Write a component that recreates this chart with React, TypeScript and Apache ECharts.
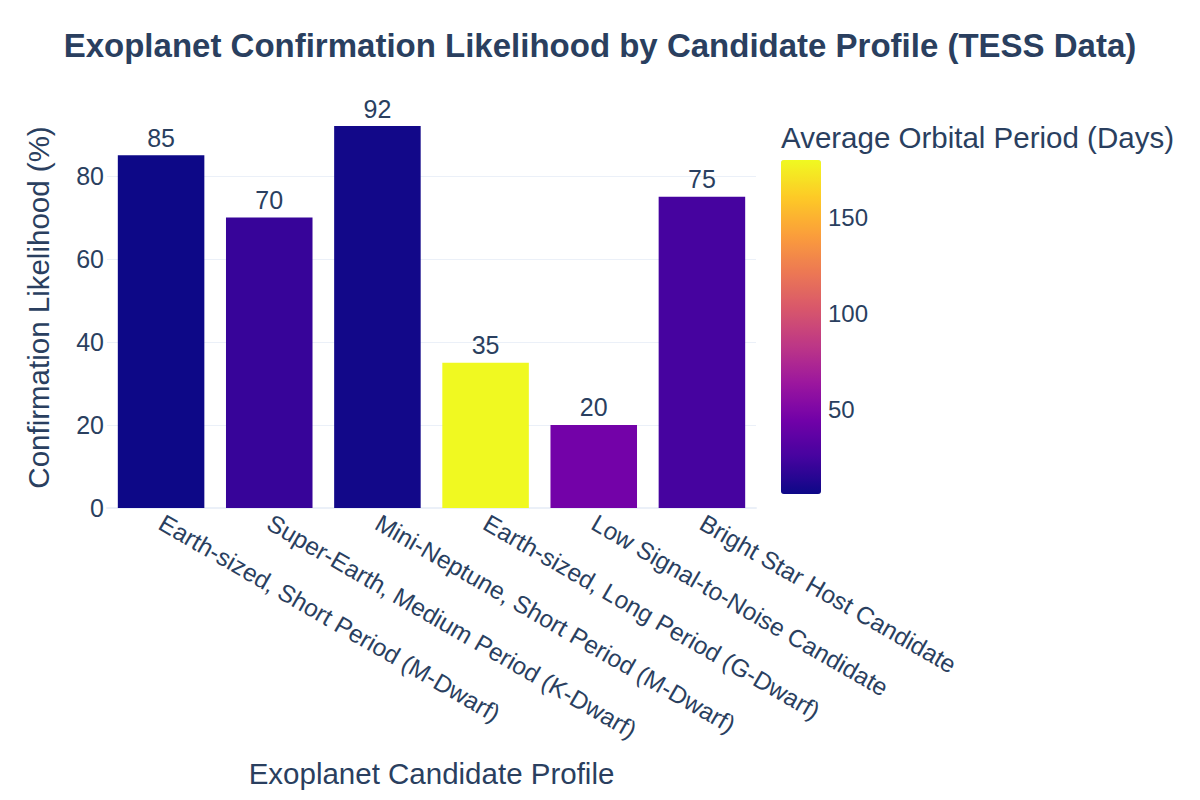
import React, { useEffect, useRef } from "react";
import * as echarts from "echarts";

const categories = [
  "Earth-sized, Short Period (M-Dwarf)",
  "Super-Earth, Medium Period (K-Dwarf)",
  "Mini-Neptune, Short Period (M-Dwarf)",
  "Earth-sized, Long Period (G-Dwarf)",
  "Low Signal-to-Noise Candidate",
  "Bright Star Host Candidate",
];
const likelihood = [85, 70, 92, 35, 20, 75];
const orbitalPeriod = [5.7, 20, 7.5, 180, 45, 25];
const colorbarTicks = [50, 100, 150];
const plasma = [
  "#0d0887", "#46039f", "#7201a8", "#9c179e", "#bd3786",
  "#d8576b", "#ed7953", "#fb9f3a", "#fdca26", "#f0f921",
];

const FONT = "Liberation Sans, Arial, sans-serif";
const TXT = "#2a3f5f";
const GRID = "#ebf0f8";

export default function App() {
  const ref = useRef<HTMLDivElement>(null);
  useEffect(() => {
    document.body.style.margin = "0";
    const chart = echarts.init(ref.current!, null, { renderer: "svg" });
    const pMin = Math.min(...orbitalPeriod);
    const pMax = Math.max(...orbitalPeriod);
    chart.setOption({
      animation: false,
      backgroundColor: "#fff",
      textStyle: { fontFamily: FONT },
      title: [
        {
          text: "Exoplanet Confirmation Likelihood by Candidate Profile (TESS Data)",
          left: "center",
          top: 24,
          textStyle: { fontFamily: FONT, fontSize: 33, fontWeight: "bold", color: TXT },
        },
        {
          text: "Average Orbital Period (Days)",
          left: 776,
          top: 117,
          textStyle: { fontFamily: FONT, fontSize: 29.5, fontWeight: "normal", color: TXT },
        },
      ],
      grid: [
        { left: 107, right: 444, top: 107, bottom: 292 },
        { left: 781, top: 160, width: 40, height: 334 },
      ],
      xAxis: [
        {
          type: "category",
          data: categories,
          gridIndex: 0,
          axisLine: { show: true, lineStyle: { color: GRID, width: 2 } },
          axisTick: { show: false },
          axisLabel: { rotate: -30, fontSize: 24.5, color: TXT, fontFamily: FONT, margin: 13, interval: 0 },
          name: "Exoplanet Candidate Profile",
          nameLocation: "middle",
          nameGap: 250,
          nameTextStyle: { fontSize: 29.5, color: TXT, fontFamily: FONT },
        },
        { type: "value", gridIndex: 1, show: false, min: 0, max: 1 },
      ],
      yAxis: [
        {
          type: "value",
          gridIndex: 0,
          min: 0,
          max: 96.6,
          interval: 20,
          axisLine: { show: false },
          axisTick: { show: false },
          splitLine: { show: true, showMaxLine: false, lineStyle: { color: GRID, width: 1 } },
          axisLabel: { fontSize: 25, color: TXT, fontFamily: FONT, margin: 3, showMaxLabel: false },
          name: "Confirmation Likelihood (%)",
          nameLocation: "middle",
          nameGap: 54,
          nameTextStyle: { fontSize: 29.5, color: TXT, fontFamily: FONT },
        },
        {
          type: "value",
          gridIndex: 1,
          min: pMin,
          max: pMax,
          position: "right",
          axisLine: { show: false },
          axisTick: { show: false },
          splitLine: { show: false },
          axisLabel: { customValues: colorbarTicks, fontSize: 24, color: TXT, fontFamily: FONT, margin: 7 },
        },
      ],
      visualMap: {
        type: "continuous",
        min: pMin,
        max: pMax,
        dimension: 2,
        seriesIndex: 0,
        inRange: { color: plasma },
        left: 781,
        top: 160,
        itemWidth: 40,
        itemHeight: 334,
        padding: 0,
        calculable: false,
        showLabel: false,
        text: null,
      },
      series: [
        {
          type: "bar",
          xAxisIndex: 0,
          yAxisIndex: 0,
          barCategoryGap: "20%",
          data: categories.map((c, i) => ({ value: [c, likelihood[i], orbitalPeriod[i]] })),
          encode: { x: 0, y: 1 },
          label: {
            show: true,
            position: "top",
            distance: 5,
            fontSize: 25,
            color: TXT,
            fontFamily: FONT,
            formatter: (p: any) => String(p.value[1]),
          },
        },
      ],
    });
    return () => chart.dispose();
  }, []);
  return <div ref={ref} style={{ width: 1200, height: 800 }} />;
}
